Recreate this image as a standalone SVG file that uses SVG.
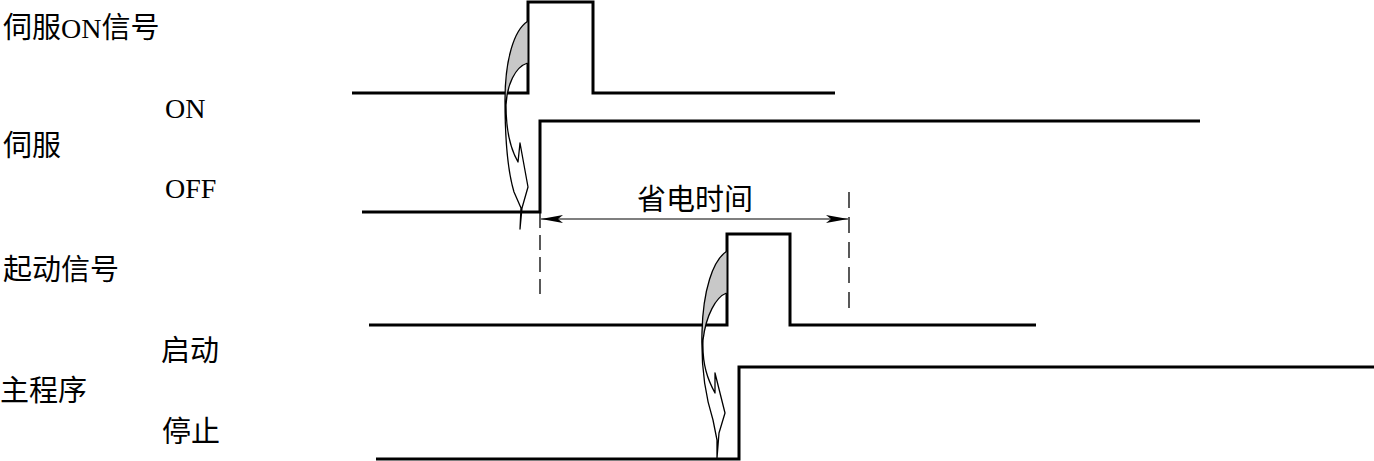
<svg xmlns="http://www.w3.org/2000/svg" width="1374" height="461" viewBox="0 0 1374 461">
<style>
.sig{fill:none;stroke:#000;stroke-width:3;stroke-linejoin:miter;stroke-linecap:butt}
.cur{fill:none;stroke:#000;stroke-width:1.3;stroke-linejoin:round}
.shade{fill:#c8c8c8;stroke:none}
.dash{fill:none;stroke:#000;stroke-width:1.3}
.dim{fill:none;stroke:#000;stroke-width:1.2}
.cjk{font-family:"Noto Sans CJK SC","Noto Sans CJK JP",sans-serif;font-size:29px;fill:#000}
.lat{font-family:"Liberation Serif",serif;font-size:28px;fill:#000}
</style>
<defs>
<marker id="ah" viewBox="0 0 22 8" refX="22" refY="4" markerWidth="22" markerHeight="8" markerUnits="userSpaceOnUse" orient="auto-start-reverse">
<path d="M0,0 L22,4 L0,8 L5,4 Z" fill="#000"/>
</marker>
</defs>

<g id="labels">
<text class="cjk" x="3" y="38">伺服<tspan class="lat">ON</tspan>信号</text>
<text class="lat" x="165" y="118">ON</text>
<text class="cjk" x="3" y="156">伺服</text>
<text class="lat" x="165" y="198">OFF</text>
<text class="cjk" x="3" y="280">起动信号</text>
<text class="cjk" x="161" y="361">启动</text>
<text class="cjk" x="0" y="401">主程序</text>
<text class="cjk" x="162" y="442">停止</text>
</g>

<g id="servo-on-signal">
<path class="sig" d="M352,93 H528 V2 H593 V93 H835"/>
</g>
<g id="servo">
<path class="sig" d="M362,212 H540 V121 H1200"/>
</g>
<g id="start-signal">
<path class="sig" d="M369,325 H727 V234 H790 V325 H1036"/>
</g>
<g id="main-program">
<path class="sig" d="M376,459 H739 V367 H1374"/>
</g>

<g id="connectors">
<g id="curved-arrow-1">
<path class="shade" d="M527.5,21.5 C514,30 505,60 505,100 L506,105 C507,85 515,67 527.5,63 Z"/>
<path class="cur" d="M527.5,21.5 C514,30 505,60 505,100 C505,140 508,172 514,192 L521,208 L520,229 L522,208 L528,187 L520,143 L518,162 C511,150 506,130 506,105 C507,85 515,67 527.5,63"/>
</g>
<g id="curved-arrow-2">
<path class="shade" d="M726.5,251.5 C713,260 703,290 702,332 L703,340 C706,315 716,297 726.5,293 Z"/>
<path class="cur" d="M726.5,251.5 C713,260 703,290 702,332 C701,365 705,395 713,420 L717,440 L717,458 L719,433 L725,413 L715,373 L715,393 C708,380 702,365 703,340 C706,315 716,297 726.5,293"/>
</g>
<line class="dash" x1="540" y1="213" x2="540" y2="300" stroke-dasharray="15 7"/>
<line class="dash" x1="849" y1="192" x2="849" y2="312" stroke-dasharray="16 9"/>
<line class="dim" x1="541" y1="219" x2="848" y2="219" marker-start="url(#ah)" marker-end="url(#ah)"/>
<text class="cjk" x="637" y="210">省电时间</text>
</g>
</svg>
